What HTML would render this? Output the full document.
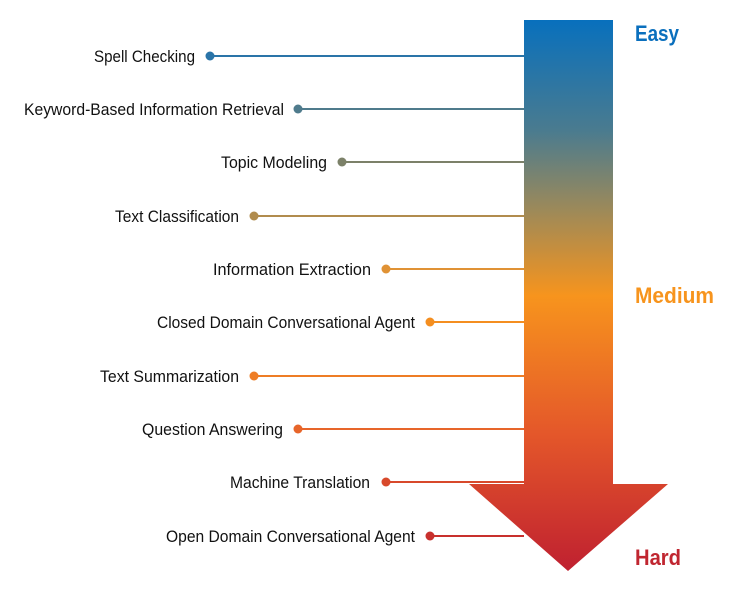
<!DOCTYPE html>
<html><head><meta charset="utf-8"><style>
html,body{margin:0;padding:0;background:#fff;}
svg{display:block}
text{font-family:"Liberation Sans Narrow","Liberation Sans",sans-serif;}
</style></head><body>
<svg width="731" height="597" viewBox="0 0 731 597" xmlns="http://www.w3.org/2000/svg">
<defs>
<linearGradient id="g" x1="0" y1="20" x2="0" y2="572" gradientUnits="userSpaceOnUse">
<stop offset="0" stop-color="#0870bd"/>
<stop offset="0.2" stop-color="#4a7b8f"/>
<stop offset="0.35" stop-color="#a08a57"/>
<stop offset="0.5" stop-color="#f7941d"/>
<stop offset="0.75" stop-color="#e4572a"/>
<stop offset="1" stop-color="#bf2030"/>
</linearGradient>
</defs>
<path d="M524 20 H613 V484 H668 L568 571 L469 484 H524 Z" fill="url(#g)"/>
<g stroke-width="2" font-size="17" fill="#111">
<line x1="210" y1="56" x2="524" y2="56" stroke="#2a74a8"/><circle cx="210" cy="56" r="4.5" fill="#2a74a8"/>
<text x="195" y="62" text-anchor="end" textLength="101" lengthAdjust="spacingAndGlyphs">Spell Checking</text>
<line x1="298" y1="109" x2="524" y2="109" stroke="#4f7b8c"/><circle cx="298" cy="109" r="4.5" fill="#4f7b8c"/>
<text x="284" y="115" text-anchor="end" textLength="260" lengthAdjust="spacingAndGlyphs">Keyword-Based Information Retrieval</text>
<line x1="342" y1="162" x2="524" y2="162" stroke="#7c8169"/><circle cx="342" cy="162" r="4.5" fill="#7c8169"/>
<text x="327" y="168" text-anchor="end" textLength="106" lengthAdjust="spacingAndGlyphs">Topic Modeling</text>
<line x1="254" y1="216" x2="524" y2="216" stroke="#b18c4e"/><circle cx="254" cy="216" r="4.5" fill="#b18c4e"/>
<text x="239" y="222" text-anchor="end" textLength="124" lengthAdjust="spacingAndGlyphs">Text Classification</text>
<line x1="386" y1="269" x2="524" y2="269" stroke="#e09235"/><circle cx="386" cy="269" r="4.5" fill="#e09235"/>
<text x="371" y="275" text-anchor="end" textLength="158" lengthAdjust="spacingAndGlyphs">Information Extraction</text>
<line x1="430" y1="322" x2="524" y2="322" stroke="#f48e20"/><circle cx="430" cy="322" r="4.5" fill="#f48e20"/>
<text x="415" y="328" text-anchor="end" textLength="258" lengthAdjust="spacingAndGlyphs">Closed Domain Conversational Agent</text>
<line x1="254" y1="376" x2="524" y2="376" stroke="#ee7d25"/><circle cx="254" cy="376" r="4.5" fill="#ee7d25"/>
<text x="239" y="382" text-anchor="end" textLength="139" lengthAdjust="spacingAndGlyphs">Text Summarization</text>
<line x1="298" y1="429" x2="524" y2="429" stroke="#e7652a"/><circle cx="298" cy="429" r="4.5" fill="#e7652a"/>
<text x="283" y="435" text-anchor="end" textLength="141" lengthAdjust="spacingAndGlyphs">Question Answering</text>
<line x1="386" y1="482" x2="524" y2="482" stroke="#d8492b"/><circle cx="386" cy="482" r="4.5" fill="#d8492b"/>
<text x="370" y="488" text-anchor="end" textLength="140" lengthAdjust="spacingAndGlyphs">Machine Translation</text>
<line x1="430" y1="536" x2="524" y2="536" stroke="#c8302d"/><circle cx="430" cy="536" r="4.5" fill="#c8302d"/>
<text x="415" y="542" text-anchor="end" textLength="249" lengthAdjust="spacingAndGlyphs">Open Domain Conversational Agent</text>
</g>
<g font-size="22" font-weight="bold">
<text x="635" y="41" fill="#0a6fbd" textLength="44" lengthAdjust="spacingAndGlyphs">Easy</text>
<text x="635" y="303" fill="#f7941d" textLength="79" lengthAdjust="spacingAndGlyphs">Medium</text>
<text x="635" y="565" fill="#c02630" textLength="46" lengthAdjust="spacingAndGlyphs">Hard</text>
</g>
</svg>
</body></html>
